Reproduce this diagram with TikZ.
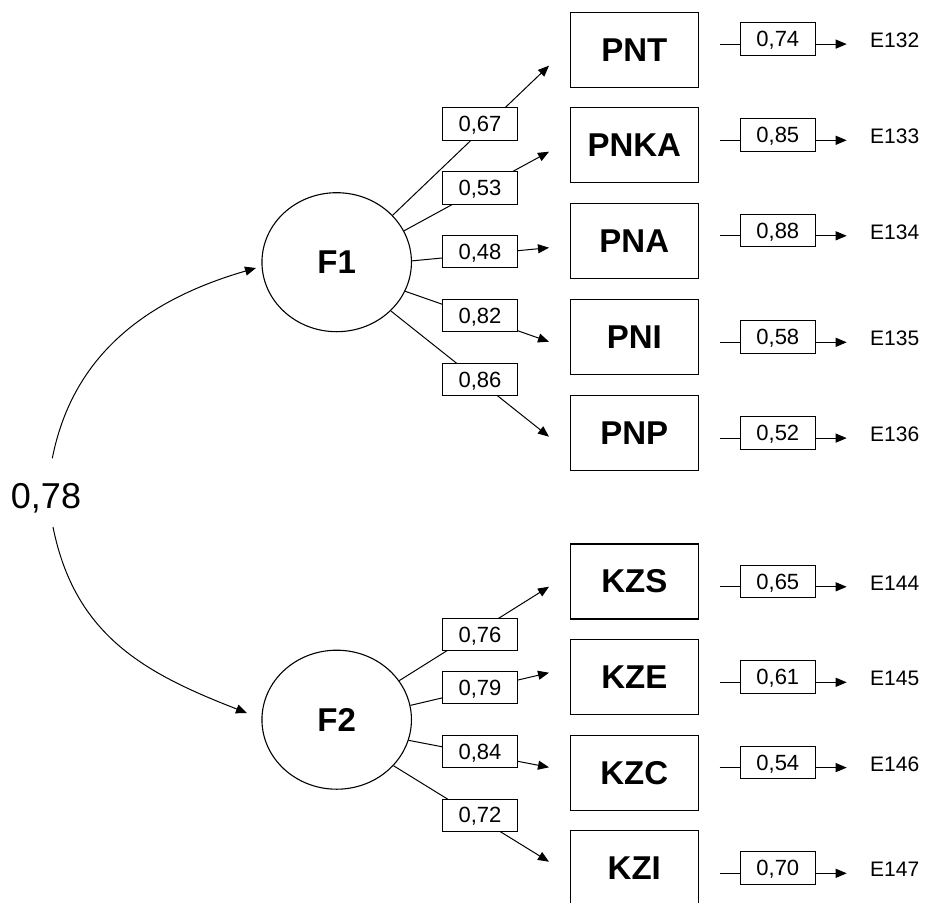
\documentclass[tikz,border=0pt]{standalone}
\usepackage{fontspec}
\setmainfont{Liberation Sans}
\usetikzlibrary{arrows.meta,shapes.geometric}
\begin{document}
\begin{tikzpicture}[x=1pt,y=-1pt,
  ind/.style={draw,line width=1.2pt,minimum width=128pt,minimum height=75pt,inner sep=0pt,font=\fontsize{33}{33}\selectfont\bfseries},
  lat/.style={draw,ellipse,line width=1.1pt,minimum width=149.5pt,minimum height=139pt,inner sep=0pt,font=\fontsize{33}{33}\selectfont\bfseries},
  lbl/.style={draw,fill=white,line width=0.9pt,minimum width=74.6pt,minimum height=32.3pt,inner sep=0pt,text height=15.5pt,text depth=0pt,font=\fontsize{22}{22}\selectfont},
  etxt/.style={anchor=base west,inner sep=0pt,font=\fontsize{21}{21}\selectfont},
  arr/.style={-{Triangle[length=11pt,width=9pt]},line width=1pt}]
\useasboundingbox (0,0) rectangle (925,902);
\clip (0,0) rectangle (925,902);

% latent factors
\node[lat] (F1) at (336.7,262.2) {F1};
\node[lat] (F2) at (336.7,719.7) {F2};

% indicators
\node[ind] (PNT)  at (634.3,49.8)  {PNT};
\node[ind] (PNKA) at (634.3,145.2) {PNKA};
\node[ind] (PNA)  at (634.3,241.3) {PNA};
\node[ind] (PNI)  at (634.3,336.8) {PNI};
\node[ind] (PNP)  at (634.3,432.7) {PNP};
\node[ind] (KZS)  at (634.3,581.5) {KZS};
\node[ind] (KZE)  at (634.3,677)   {KZE};
\node[ind] (KZC)  at (634.3,772.7) {KZC};
\node[ind] (KZI)  at (634.3,868)   {KZI};

% arrow tips of loadings
\coordinate (tPNT)  at (549,65.7);
\coordinate (tPNKA) at (549,151.7);
\coordinate (tPNA)  at (549,247.7);
\coordinate (tPNI)  at (549,341.7);
\coordinate (tPNP)  at (549,436.7);
\coordinate (tKZS)  at (549,586.7);
\coordinate (tKZE)  at (549,672.7);
\coordinate (tKZC)  at (549,767.3);
\coordinate (tKZI)  at (549,861.7);

\draw[arr] (F1.40.5)  -- (tPNT);
\draw[arr] (F1.25.4)  -- (tPNKA);
\draw[arr] (F1.1.5)   -- (tPNA);
\draw[arr] (F1.-23.9) -- (tPNI);
\draw[arr] (F1.-42.2) -- (tPNP);
\draw[arr] (F2.32.8)  -- (tKZS);
\draw[arr] (F2.11.9)  -- (tKZE);
\draw[arr] (F2.-16.2) -- (tKZC);
\draw[arr] (F2.-39.6) -- (tKZI);

% loading labels
\node[lbl] (l1) at (480,123.8) {0,67};
\node[lbl] (l2) at (480,187.8) {0,53};
\node[lbl] (l3) at (480,251.7) {0,48};
\node[lbl] (l4) at (480,315.3) {0,82};
\node[lbl] (l5) at (480,379.3) {0,86};
\node[lbl] (l6) at (480,634.3) {0,76};
\node[lbl] (l7) at (480,687.5) {0,79};
\node[lbl] (l8) at (480,751.5) {0,84};
\node[lbl] (l9) at (480,815.2) {0,72};

% error terms
\foreach \n/\y/\v/\e in {1/38.8/{0,74}/E132, 2/135/{0,85}/E133, 3/230.5/{0,88}/E134, 4/337/{0,58}/E135, 5/432.8/{0,52}/E136, 6/581.5/{0,65}/E144, 7/677/{0,61}/E145, 8/762.3/{0,54}/E146, 9/868/{0,70}/E147}{
  \coordinate (s\n) at (719.7,\y+5.3);
  \coordinate (t\n) at (846.7,\y+5.3);
  \draw[arr] (s\n) -- (t\n);
  \node[lbl,minimum width=75pt] (eb\n) at (777.8,\y) {\v};
  \node[etxt] (et\n) at (870,\y+8.7) {\e};
}

% correlation
\node[inner sep=0pt,font=\fontsize{36}{36}\selectfont] (r) at (46,498) {0,78};
\coordinate (c1) at (52.3,458.3);
\coordinate (c2) at (256,268);
\coordinate (c3) at (53,527);
\coordinate (c4) at (247,713);
\draw[arr] (c1) .. controls (74,348) and (156,297) .. (c2);
\draw[arr] (c3) .. controls (75,637) and (147,674) .. (c4);
\end{tikzpicture}
\end{document}
